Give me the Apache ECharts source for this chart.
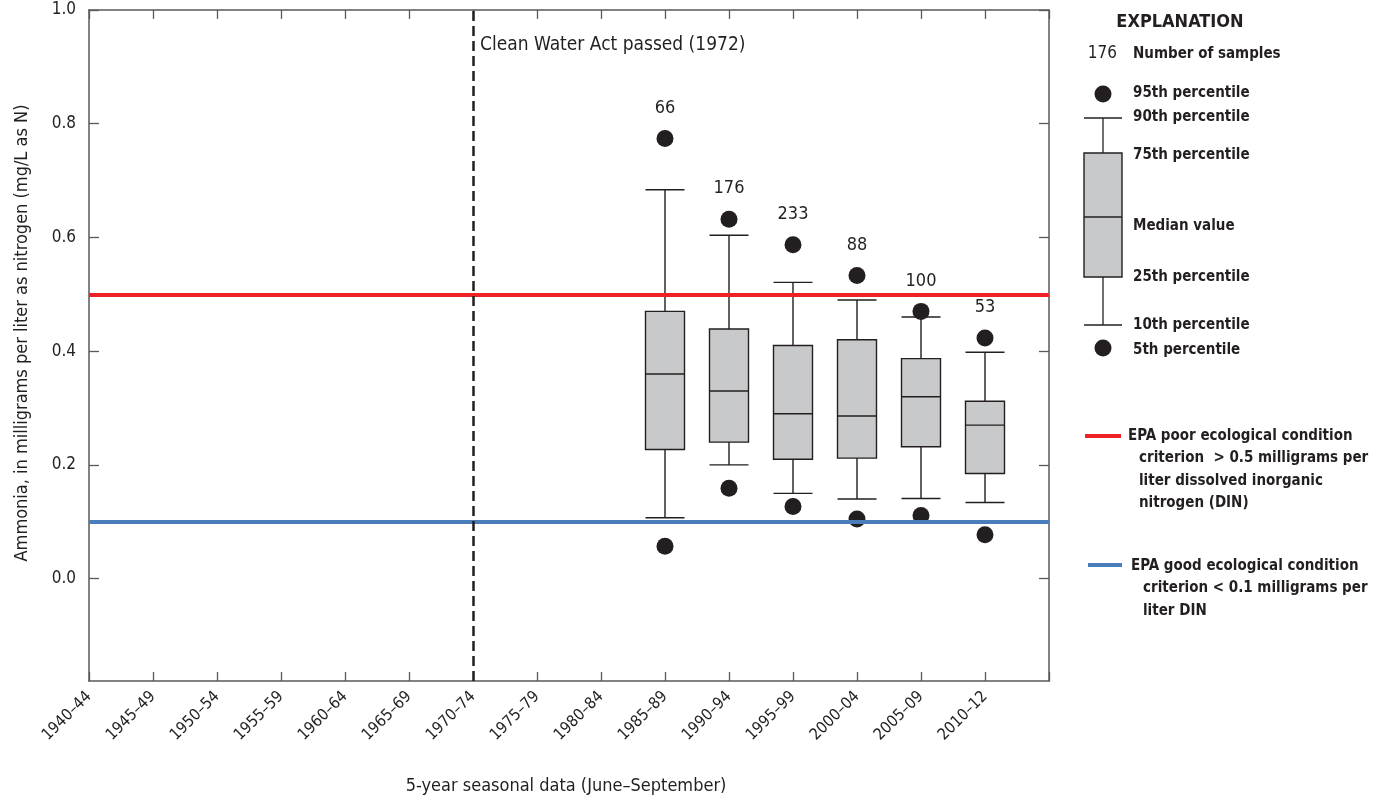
<!DOCTYPE html>
<html>
<head>
<meta charset="utf-8">
<title>Ammonia boxplots</title>
<script src="https://cdn.jsdelivr.net/npm/echarts@6/dist/echarts.min.js"></script>
<style>
* { margin: 0; padding: 0; }
body { background: #fff; }
#chart { width: 1374px; height: 799px; }
</style>
</head>
<body>
<div id="chart"></div>
<script>
// categories on the x axis (last one is an empty slot at the right edge)
var periods = ['1940–44', '1945–49', '1950–54', '1955–59', '1960–64', '1965–69', '1970–74',
    '1975–79', '1980–84', '1985–89', '1990–94', '1995–99', '2000–04', '2005–09', '2010–12', ''];
var boxPeriods = ['1985–89', '1990–94', '1995–99', '2000–04', '2005–09', '2010–12'];

// percentiles (mg/L as N)
var p5  = [0.057, 0.159, 0.127, 0.105, 0.111, 0.077];
var p10 = [0.107, 0.200, 0.150, 0.140, 0.141, 0.134];
var p25 = [0.227, 0.240, 0.210, 0.212, 0.232, 0.185];
var p50 = [0.360, 0.330, 0.290, 0.286, 0.320, 0.270];
var p75 = [0.470, 0.439, 0.410, 0.420, 0.387, 0.312];
var p90 = [0.684, 0.604, 0.521, 0.490, 0.460, 0.398];
var p95 = [0.774, 0.632, 0.587, 0.533, 0.470, 0.423];
var sampleCounts = [66, 176, 233, 88, 100, 53];

var yTicks = [0, 0.2, 0.4, 0.6, 0.8, 1.0];
var poorLevel = 0.497;
var goodLevel = 0.095;
var actPeriod = '1970–74';

var FONT = "'Liberation Sans Narrow', 'DejaVu Sans Condensed', 'Arial Narrow', sans-serif";
var INK = '#231f20';
var AXIS = '#58595b';

var boxData = [], lowDots = [], highDots = [];
for (var i = 0; i < boxPeriods.length; i++) {
    boxData.push([boxPeriods[i], p10[i], p25[i], p50[i], p75[i], p90[i]]);
    lowDots.push([boxPeriods[i], p5[i]]);
    highDots.push([boxPeriods[i], p95[i], sampleCounts[i]]);
}

var chart = echarts.init(document.getElementById('chart'));

// explanation panel on the right
function txt(x, y, s, bold, align) {
    return { type: 'text', x: x, y: y, style: { text: s, fill: INK, font: (bold ? 'bold ' : '') + '15px ' + FONT,
        align: align || 'left', verticalAlign: 'middle' } };
}
var lx = 1103;
var legend = [
    { type: 'text', x: 1180, y: 22, style: { text: 'EXPLANATION', fill: INK, font: 'bold 18px ' + FONT, align: 'center', verticalAlign: 'middle' } },
    { type: 'text', x: 1117, y: 54, style: { text: '176', fill: INK, font: '17px ' + FONT, align: 'right', verticalAlign: 'middle' } },
    txt(1133, 54, 'Number of samples', true),
    { type: 'circle', shape: { cx: lx, cy: 94, r: 8.5 }, style: { fill: INK } },
    txt(1133, 93, '95th percentile', true),
    { type: 'line', shape: { x1: 1084, y1: 118, x2: 1122, y2: 118 }, style: { stroke: INK, lineWidth: 1.3 } },
    txt(1133, 117, '90th percentile', true),
    { type: 'line', shape: { x1: lx, y1: 118, x2: lx, y2: 153 }, style: { stroke: INK, lineWidth: 1.3 } },
    { type: 'rect', shape: { x: 1084, y: 153, width: 38, height: 124 }, style: { fill: '#c8c9cb', stroke: INK, lineWidth: 1.4 } },
    { type: 'line', shape: { x1: 1084, y1: 217, x2: 1122, y2: 217 }, style: { stroke: INK, lineWidth: 1.4 } },
    txt(1133, 155, '75th percentile', true),
    txt(1133, 226, 'Median value', true),
    txt(1133, 277, '25th percentile', true),
    { type: 'line', shape: { x1: lx, y1: 277, x2: lx, y2: 325 }, style: { stroke: INK, lineWidth: 1.3 } },
    { type: 'line', shape: { x1: 1084, y1: 325, x2: 1122, y2: 325 }, style: { stroke: INK, lineWidth: 1.3 } },
    txt(1133, 325, '10th percentile', true),
    { type: 'circle', shape: { cx: lx, cy: 348, r: 8.5 }, style: { fill: INK } },
    txt(1133, 350, '5th percentile', true),
    { type: 'line', shape: { x1: 1085, y1: 436, x2: 1121, y2: 436 }, style: { stroke: '#ec2227', lineWidth: 4 } },
    txt(1128, 436, 'EPA poor ecological condition', true),
    txt(1139, 458, 'criterion  > 0.5 milligrams per', true),
    txt(1139, 481, 'liter dissolved inorganic', true),
    txt(1139, 503, 'nitrogen (DIN)', true),
    { type: 'line', shape: { x1: 1088, y1: 565, x2: 1122, y2: 565 }, style: { stroke: '#4a7ebb', lineWidth: 4 } },
    txt(1131, 566, 'EPA good ecological condition', true),
    txt(1143, 588, 'criterion < 0.1 milligrams per', true),
    txt(1143, 611, 'liter DIN', true),
    // titles and annotation
    { type: 'text', x: 480, y: 45, style: { text: 'Clean Water Act passed (1972)', fill: INK, font: '19px ' + FONT, align: 'left', verticalAlign: 'middle' } },
    { type: 'text', x: 22, y: 333, rotation: Math.PI / 2, style: { text: 'Ammonia, in milligrams per liter as nitrogen (mg/L as N)', fill: INK, font: '18px ' + FONT, align: 'center', verticalAlign: 'middle' } },
    { type: 'text', x: 566, y: 786, style: { text: '5-year seasonal data (June–September)', fill: INK, font: '18px ' + FONT, align: 'center', verticalAlign: 'middle' } }
];

var option = {
    animation: false,
    textStyle: { fontFamily: FONT },
    grid: { left: 89, right: 325, top: 10, bottom: 118, containLabel: false },
    xAxis: [{
        type: 'category',
        data: periods,
        boundaryGap: false,
        axisLine: { onZero: false, lineStyle: { color: AXIS, width: 1.5 } },
        axisTick: { inside: true, length: 9, lineStyle: { color: AXIS, width: 1.3 } },
        axisLabel: { rotate: 45, fontSize: 16, color: INK, margin: 13, interval: 0 },
        splitLine: { show: false }
    }, {
        type: 'category',
        data: periods,
        boundaryGap: false,
        position: 'top',
        axisLine: { onZero: false, lineStyle: { color: AXIS, width: 1.5 } },
        axisTick: { inside: true, length: 9, lineStyle: { color: AXIS, width: 1.3 } },
        axisLabel: { show: false },
        splitLine: { show: false }
    }],
    yAxis: [{
        type: 'value',
        min: -0.18,
        max: 1.0,
        axisLine: { show: true, onZero: false, lineStyle: { color: AXIS, width: 1.5 } },
        axisTick: { show: true, inside: true, length: 10, customValues: yTicks, lineStyle: { color: AXIS, width: 1.3 } },
        axisLabel: { customValues: yTicks, fontSize: 17, color: INK, margin: 13, formatter: function (v) { return v.toFixed(1); } },
        splitLine: { show: false }
    }, {
        type: 'value',
        min: -0.18,
        max: 1.0,
        position: 'right',
        axisLine: { show: true, onZero: false, lineStyle: { color: AXIS, width: 1.5 } },
        axisTick: { show: true, inside: true, length: 10, customValues: yTicks, lineStyle: { color: AXIS, width: 1.3 } },
        axisLabel: { show: false },
        splitLine: { show: false }
    }],
    graphic: legend,
    series: [
        {
            type: 'line',
            data: [],
            markLine: {
                silent: true,
                symbol: 'none',
                label: { show: false },
                data: [
                    { yAxis: poorLevel, lineStyle: { color: '#ec2227', width: 4, type: 'solid' } },
                    { yAxis: goodLevel, lineStyle: { color: '#4a7ebb', width: 4, type: 'solid' } },
                    { xAxis: actPeriod, lineStyle: { color: INK, width: 2.5, type: [10, 5] } }
                ]
            }
        },
        {
            type: 'boxplot',
            data: boxData,
            encode: { x: 0, y: [1, 2, 3, 4, 5] },
            boxWidth: [39, 39],
            itemStyle: { color: '#c8c9cb', borderColor: INK, borderWidth: 1.4 },
            z: 3
        },
        {
            type: 'scatter',
            data: lowDots,
            symbolSize: 17,
            itemStyle: { color: INK, opacity: 1 },
            z: 4
        },
        {
            type: 'scatter',
            data: highDots,
            symbolSize: 17,
            itemStyle: { color: INK, opacity: 1 },
            label: {
                show: true,
                position: 'top',
                distance: 13,
                fontSize: 18,
                color: INK,
                formatter: function (p) { return p.value[2]; }
            },
            z: 4
        }
    ]
};
chart.setOption(option);
</script>
</body>
</html>
